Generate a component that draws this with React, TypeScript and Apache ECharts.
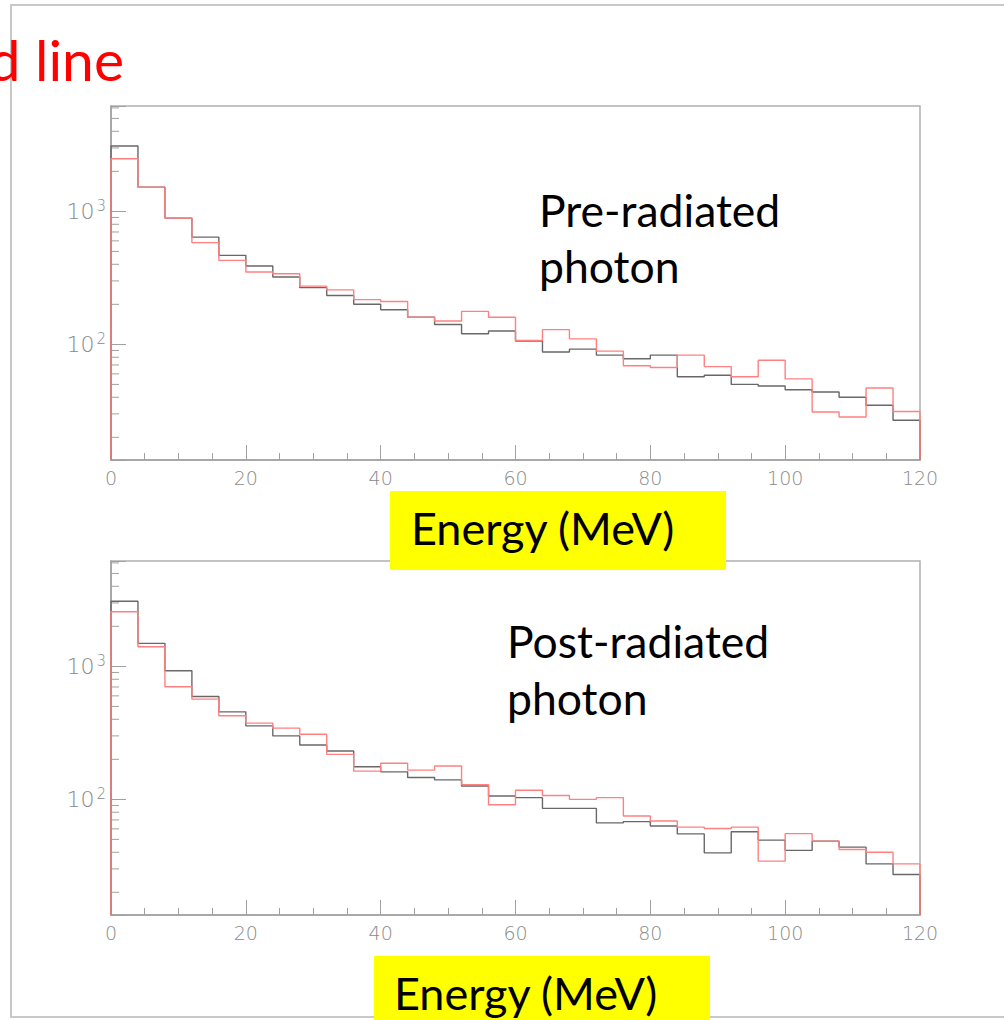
import React, { useEffect, useRef } from "react";
import * as echarts from "echarts";

// ---- data ----
const BIN_WIDTH = 4; // MeV
const X_TICKS = [0, 20, 40, 60, 80, 100, 120];
const Y_MINOR_TICKS = [20, 30, 40, 50, 60, 70, 80, 90, 200, 300, 400, 500, 600, 700, 800, 900, 2000, 3000, 4000, 5000, 6000];

// Pre-radiated photon (top panel)
const preBlack = [3100, 1520, 890, 640, 467, 388, 321, 267, 233, 200, 182, 160, 141, 120, 126, 106, 87.5, 92, 83, 78, 83, 57, 58.5, 50, 48.6, 45.6, 43.8, 40, 34.8, 26.9];
const preRed = [2490, 1520, 890, 582, 428, 350, 340, 274, 257, 217, 210, 160, 150, 177, 160, 107, 129, 110, 89, 69, 67, 83, 68, 57, 76, 55, 31, 28.4, 47, 31.3];

// Post-radiated photon (bottom panel)
const postBlack = [3090, 1490, 926, 594, 455, 357, 300, 256, 231, 176, 161, 146, 140, 126, 106, 103, 85.5, 85.5, 66.6, 68, 63, 55, 39.6, 57, 49.4, 41.3, 48.5, 43.7, 32.7, 27.2];
const postRed = [2575, 1405, 702, 567, 425, 374, 343, 309, 218, 163, 187, 166, 178, 129, 91, 117, 107, 100, 103, 75, 68.7, 61.8, 60.4, 61.8, 34.3, 55.2, 48.5, 42, 40, 32.7];

const PANEL_LABELS = ["Pre-radiated", "photon", "Post-radiated", "photon"];
const AXIS_TITLE = "Energy (MeV)";
const CORNER_TEXT = "d line";

// ---- axis ranges ----
const X_MIN = 0;
const X_MAX = 120;
const Y_MIN = 13.5;
const Y_MAX = 6200;

// ---- styles ----
const GRAY_HIST = "#686868";
const RED_HIST = "#ff8080";
const AXIS_GRAY = "#a0a0a0";
const LABEL_GRAY = "#8a8a8a";
const TEXT_FONT = "Lato";
const TICK_FONT = "DejaVu Sans";

function histPoints(values: number[]): number[][] {
  const pts: number[][] = [[X_MIN, Y_MIN]];
  values.forEach((v, i) => pts.push([X_MIN + i * BIN_WIDTH, v]));
  pts.push([X_MIN + values.length * BIN_WIDTH, values[values.length - 1]]);
  pts.push([X_MIN + values.length * BIN_WIDTH, Y_MIN]);
  return pts;
}

function isPow10(v: number) {
  const e = Math.round(Math.log10(v));
  return Math.abs(v - Math.pow(10, e)) < 1e-6 * v;
}

export default function App() {
  const ref = useRef<HTMLDivElement>(null);

  useEffect(() => {
    if (!ref.current) return;
    const chart = echarts.init(ref.current, null, { renderer: "svg" });

    const gridLeft = 111;
    const gridWidth = 809;
    const gridHeight = 354;
    const gridTops = [106, 561];

    const xAxes = gridTops.map((_, i) => ({
      type: "value",
      gridIndex: i,
      min: X_MIN,
      max: X_MAX,
      interval: 20,
      axisLine: { show: true, onZero: false, lineStyle: { color: AXIS_GRAY, width: 1.5 } },
      axisTick: { show: true, inside: true, length: 15, lineStyle: { color: AXIS_GRAY, width: 1 } },
      minorTick: { show: true, splitNumber: 4, length: 7, lineStyle: { color: AXIS_GRAY, width: 1 } },
      splitLine: { show: false },
      axisLabel: {
        color: LABEL_GRAY,
        fontSize: 19,
        fontFamily: TICK_FONT,
        fontWeight: 200,
        margin: 8,
        customValues: X_TICKS,
      },
    }));

    const yAxes = gridTops.map((_, i) => ({
      type: "log",
      logBase: 10,
      gridIndex: i,
      min: Y_MIN,
      max: Y_MAX,
      axisLine: { show: true, lineStyle: { color: AXIS_GRAY, width: 1.5 } },
      axisTick: { show: true, inside: true, length: 15, lineStyle: { color: AXIS_GRAY, width: 1 } },
      splitLine: { show: false },
      axisLabel: {
        margin: 5,
        color: LABEL_GRAY,
        fontSize: 22,
        fontFamily: TICK_FONT,
        fontWeight: 200,
        formatter: (v: number) => (isPow10(v) ? `{b|10}{s|${Math.round(Math.log10(v))}}` : ""),
        rich: {
          b: { fontSize: 22, color: LABEL_GRAY, fontFamily: TICK_FONT, fontWeight: 200, verticalAlign: "middle" },
          s: { fontSize: 15, color: LABEL_GRAY, fontFamily: TICK_FONT, fontWeight: 200, verticalAlign: "middle", padding: [0, 0, 11, 2] },
        },
      },
    }));

    const minorTickSeries = gridTops.map((_, i) => ({
      type: "custom",
      xAxisIndex: i,
      yAxisIndex: i,
      silent: true,
      clip: false,
      data: Y_MINOR_TICKS.map((v) => [X_MIN, v]),
      encode: { x: 0, y: 1 },
      renderItem: (_p: any, api: any) => {
        const p = api.coord([api.value(0), api.value(1)]);
        return {
          type: "line",
          shape: { x1: p[0], y1: p[1], x2: p[0] + 8, y2: p[1] },
          style: { stroke: AXIS_GRAY, lineWidth: 1 },
        };
      },
      z: 1,
    }));

    const histSeries = (values: number[], color: string, idx: number, z: number) => ({
      type: "line",
      xAxisIndex: idx,
      yAxisIndex: idx,
      step: "end",
      showSymbol: false,
      symbol: "none",
      silent: true,
      data: histPoints(values),
      lineStyle: { color, width: 1.4 },
      z,
    });

    const textEl = (text: string, x: number, baseline: number, size: number, fill: string, align = "left") => ({
      type: "text",
      z: 110,
      style: {
        text,
        x,
        y: baseline - 0.387 * size,
        fill,
        fontSize: size,
        fontFamily: TEXT_FONT,
        align,
        verticalAlign: "middle",
        textAlign: align,
        textVerticalAlign: "middle",
      },
    });

    const option: any = {
      animation: false,
      backgroundColor: "#ffffff",
      grid: gridTops.map((t) => ({
        left: gridLeft,
        top: t,
        width: gridWidth,
        height: gridHeight,
        show: true,
        borderColor: "#b0b0b0",
        borderWidth: 1.5,
        backgroundColor: "transparent",
        containLabel: false,
      })),
      xAxis: xAxes,
      yAxis: yAxes,
      series: [
        ...minorTickSeries,
        histSeries(preBlack, GRAY_HIST, 0, 3),
        histSeries(preRed, RED_HIST, 0, 4),
        histSeries(postBlack, GRAY_HIST, 1, 3),
        histSeries(postRed, RED_HIST, 1, 4),
      ],
      graphic: [
        {
          type: "rect",
          z: 0,
          shape: { x: 11, y: 5, width: 1030, height: 1012 },
          style: { fill: "none", stroke: "#c8c8c8", lineWidth: 2 },
        },
        textEl(CORNER_TEXT, 124, 81, 57, "#ff0000", "right"),
        textEl(PANEL_LABELS[0], 539, 227, 44.5, "#000000"),
        textEl(PANEL_LABELS[1], 539, 283, 44.5, "#000000"),
        textEl(PANEL_LABELS[2], 507, 658, 44.5, "#000000"),
        textEl(PANEL_LABELS[3], 507, 715, 44.5, "#000000"),
        {
          type: "rect",
          z: 100,
          shape: { x: 390, y: 491, width: 336, height: 79 },
          style: { fill: "#ffff00" },
        },
        textEl(AXIS_TITLE, 411, 545, 45, "#000000"),
        {
          type: "rect",
          z: 100,
          shape: { x: 374, y: 956, width: 336, height: 80 },
          style: { fill: "#ffff00" },
        },
        textEl(AXIS_TITLE, 394, 1010, 45, "#000000"),
      ],
    };

    chart.setOption(option);
    return () => chart.dispose();
  }, []);

  return (
    <div
      ref={ref}
      style={{ position: "fixed", left: 0, top: 0, width: 1004, height: 1020, background: "#fff" }}
    />
  );
}
